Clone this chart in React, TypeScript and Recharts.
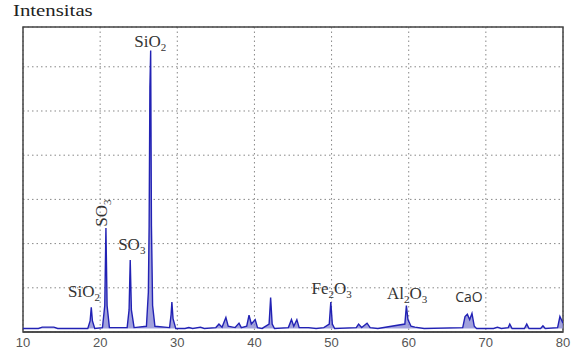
import React from 'react';
import { ComposedChart, Line, Area, XAxis, YAxis, CartesianGrid, ReferenceArea, ReferenceDot } from 'recharts';

// 2-theta positions (deg) and intensity
const twoTheta = [
  10, 12, 12.5, 14, 14.5, 18.4, 18.7, 18.85, 19.0, 19.3, 20.3, 20.6, 20.75, 20.9, 21.2,
  23.5, 23.75, 23.9, 24.05, 24.4, 26.0, 26.25, 26.35, 26.45, 26.55, 26.65, 26.8, 27.1,
  29.0, 29.2, 29.3, 29.45, 29.8, 31, 31.5, 32, 33, 33.5, 35, 35.4, 35.8, 36.3, 36.6, 37.5,
  38, 38.3, 39.0, 39.3, 39.6, 40.1, 40.4, 41, 41.9, 42.1, 42.3, 42.6, 44.4, 44.8, 45.1,
  45.5, 45.8, 47, 48, 49, 49.7, 49.9, 50.1, 50.4, 53.2, 53.5, 53.9, 54.6, 55.0, 56, 59.5,
  59.7, 59.9, 60.3, 60.8, 62, 67.0, 67.3, 67.6, 67.9, 68.2, 68.5, 68.8, 71, 71.5, 72,
  72.9, 73.1, 73.4, 75.0, 75.3, 75.6, 77.1, 77.4, 77.7, 79.3, 79.6, 80,
];
const intensity = [
  0.08, 0.08, 0.11, 0.11, 0.08, 0.08, 0.25, 0.56, 0.25, 0.08, 0.1, 0.6, 2.35, 0.6, 0.1,
  0.1, 0.5, 1.63, 0.5, 0.1, 0.13, 0.9, 2.4, 5.53, 6.37, 2.4, 0.6, 0.13,
  0.1, 0.4, 0.68, 0.3, 0.08, 0.08, 0.1, 0.08, 0.11, 0.08, 0.1, 0.18, 0.11, 0.33, 0.13, 0.1,
  0.2, 0.1, 0.13, 0.38, 0.18, 0.28, 0.1, 0.08, 0.18, 0.78, 0.18, 0.08, 0.1, 0.28, 0.13,
  0.28, 0.1, 0.1, 0.08, 0.1, 0.18, 0.68, 0.18, 0.08, 0.1, 0.18, 0.1, 0.2, 0.1, 0.08, 0.18,
  0.6, 0.28, 0.13, 0.11, 0.08, 0.1, 0.35, 0.4, 0.28, 0.42, 0.13, 0.08, 0.08, 0.11, 0.08,
  0.1, 0.18, 0.08, 0.08, 0.18, 0.08, 0.08, 0.14, 0.08, 0.1, 0.35, 0.2,
];

const xTicks = [10, 20, 30, 40, 50, 60, 70, 80];
const yTicks = [0, 1, 2, 3, 4, 5, 6];

// phase labels: text (with _n subscript), position in data units
const phaseNames = ['SiO_2', 'SO_3', 'SO_3', 'SiO_2', 'Fe_2O_3', 'Al_2O_3', 'CaO'];
const phaseX = [26.5, 20.95, 24.1, 17.9, 50.0, 59.8, 67.8];
const phaseY = [6.45, 2.69, 1.85, 0.8, 0.85, 0.75, 0.68];

const data = twoTheta.map((t, i) => ({ t, v: intensity[i] }));

function Formula({ cx, cy, text, rotate, sans }: any) {
  const parts = text.split(/(_\d)/).filter(Boolean);
  return (
    <text
      x={cx}
      y={cy}
      textAnchor="middle"
      fill="#333"
      fontSize={sans ? 14 : 17}
      fontFamily={sans ? 'Open Sans, sans-serif' : 'Liberation Serif, serif'}
      transform={rotate ? `rotate(-90 ${cx} ${cy})` : undefined}
    >
      {parts.map((p: string, i: number) =>
        p.startsWith('_') ? (
          <tspan key={i} fontSize={11} dy={4}>{p.slice(1)}</tspan>
        ) : (
          <tspan key={i} dy={i > 0 ? -4 : 0}>{p}</tspan>
        )
      )}
    </text>
  );
}

export default function App() {
  return (
    <div style={{ position: 'absolute', left: 0, top: 0, width: 579, height: 351, background: '#fff' }}>
      <div
        style={{
          position: 'absolute', left: 13, top: 2, fontFamily: 'Liberation Serif, serif', fontSize: 16,
          color: '#222', transform: 'scaleX(1.3)', transformOrigin: 'left top',
        }}
      >
        Intensitas
      </div>
      <ComposedChart width={579} height={351} data={data} margin={{ top: 27, right: 16, bottom: 0, left: 23 }}>
        <CartesianGrid stroke="#888" strokeDasharray="1.5 3" />
        <XAxis
          dataKey="t"
          type="number"
          domain={[10, 80]}
          ticks={xTicks}
          height={19}
          tickLine={false}
          axisLine={{ stroke: '#444', strokeWidth: 1.5 }}
          tick={{ fontSize: 13, fill: '#555', fontFamily: 'Liberation Sans, sans-serif' }}
          tickMargin={0}
          allowDataOverflow
        />
        <YAxis
          type="number"
          domain={[0, 6.9]}
          ticks={yTicks}
          width={0}
          mirror
          tickSize={5}
          tickLine={{ stroke: '#444' }}
          tick={{ fontSize: 0 }}
          axisLine={{ stroke: '#444', strokeWidth: 1.5 }}
          allowDataOverflow
        />
        <ReferenceArea x1={10} x2={80} y1={0} y2={6.9} fill="none" stroke="#444" strokeWidth={1.5} />
        <Area
          type="linear"
          dataKey="v"
          baseValue={0.08}
          stroke="none"
          fill="#8a8ad4"
          fillOpacity={0.8}
          isAnimationActive={false}
        />
        <Line
          type="linear"
          dataKey="v"
          stroke="#2222b4"
          strokeWidth={1.4}
          dot={false}
          isAnimationActive={false}
        />
        {phaseNames.map((n, i) => (
          <ReferenceDot
            key={i}
            x={phaseX[i]}
            y={phaseY[i]}
            r={0}
            shape={(p: any) => <Formula cx={p.cx} cy={p.cy} text={n} rotate={i === 1} sans={n === 'CaO'} />}
          />
        ))}
      </ComposedChart>
    </div>
  );
}
